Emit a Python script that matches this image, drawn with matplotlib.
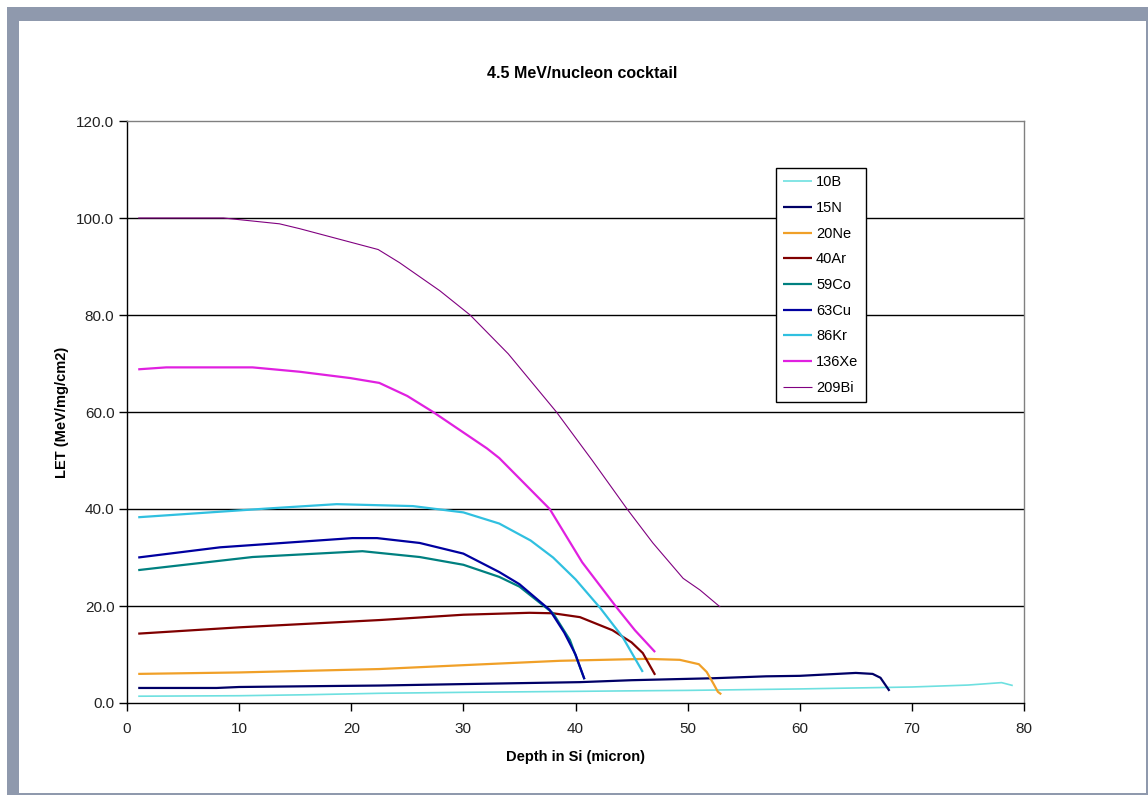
import matplotlib
matplotlib.use("Agg")
import matplotlib.pyplot as plt
from matplotlib.patches import Rectangle

plt.rcParams['font.family'] = ['Liberation Sans', 'DejaVu Sans']

title = "4.5 MeV/nucleon cocktail"
xlabel = "Depth in Si (micron)"
ylabel = "LET (MeV/mg/cm2)"

b10_x = [1, 10, 16, 22.5, 30, 40, 44.6, 50, 60, 70, 75, 78, 79]
b10_y = [1.4, 1.5, 1.7, 2.0, 2.2, 2.4, 2.5, 2.6, 2.9, 3.3, 3.7, 4.2, 3.6]

n15_x = [1, 8, 10, 18, 22.5, 30, 40.4, 45, 52.2, 57, 60, 65, 66.5, 67.2, 68]
n15_y = [3.1, 3.1, 3.3, 3.5, 3.6, 3.9, 4.3, 4.7, 5.1, 5.5, 5.6, 6.2, 6.0, 5.2, 2.5]

ne20_x = [1, 10, 22.5, 30, 38.6, 46.3, 49.3, 51, 51.7, 52.3, 52.7, 53]
ne20_y = [6.0, 6.3, 7.0, 7.8, 8.7, 9.1, 8.9, 8.0, 6.4, 4.0, 2.3, 1.8]

ar40_x = [1, 10, 22.5, 30, 35.9, 38, 40.4, 43.3, 45, 46, 47.1]
ar40_y = [14.3, 15.6, 17.1, 18.2, 18.6, 18.5, 17.7, 15.0, 12.5, 10.3, 5.8]

co59_x = [1, 11.2, 21, 26.1, 30, 33.2, 35, 38, 39.5, 40.3, 40.8]
co59_y = [27.4, 30.1, 31.3, 30.1, 28.5, 26.0, 24.0, 18.5, 13.0, 8.0, 4.9]

cu63_x = [1, 8.3, 20.1, 22.3, 26.1, 30, 33.2, 35, 37.7, 39, 40, 40.8]
cu63_y = [30.0, 32.1, 34.0, 34.0, 33.0, 30.8, 27.0, 24.5, 19.2, 14.5, 10.0, 4.9]

kr86_x = [1, 12.5, 18.7, 25.5, 30, 33.2, 36, 38, 40, 42.2, 44.2, 46]
kr86_y = [38.3, 40.1, 41.0, 40.6, 39.3, 37.0, 33.5, 30.0, 25.5, 19.6, 13.6, 6.4]

xe136_x = [1, 3.5, 11.2, 15.4, 19.9, 22.5, 25, 27.3, 32.1, 33.2, 37.7, 40.6, 43.7, 45.3, 47.1]
xe136_y = [68.8, 69.2, 69.2, 68.3, 67.0, 66.0, 63.3, 60.0, 52.5, 50.5, 40.0, 29.0, 19.6, 15.0, 10.5]

bi209_x = [1, 8.6, 13.6, 15.4, 22.4, 24.3, 27.9, 30.6, 34, 38.3, 41.5, 44.6, 46.9, 49.6, 51.1, 52.9]
bi209_y = [100, 100, 98.8, 97.8, 93.5, 90.8, 85.0, 80.0, 72.0, 60.0, 50.0, 40.0, 33.0, 25.7, 23.3, 19.8]

series = [
    ("10B", b10_x, b10_y, "#6ee0e0", 1.2),
    ("15N", n15_x, n15_y, "#000066", 1.6),
    ("20Ne", ne20_x, ne20_y, "#f0a028", 1.6),
    ("40Ar", ar40_x, ar40_y, "#800000", 1.6),
    ("59Co", co59_x, co59_y, "#008080", 1.6),
    ("63Cu", cu63_x, cu63_y, "#0000a0", 1.6),
    ("86Kr", kr86_x, kr86_y, "#30c0e0", 1.6),
    ("136Xe", xe136_x, xe136_y, "#e020e0", 1.6),
    ("209Bi", bi209_x, bi209_y, "#800080", 0.8),
]

W, H = 1148, 795
fig = plt.figure(figsize=(W / 100, H / 100), dpi=100)
fig.patch.set_facecolor("white")

# Gray frame
fig.patches.append(Rectangle((7 / W, 0), (W - 7) / W, (H - 7) / H, transform=fig.transFigure,
                             facecolor="#8f99ad", edgecolor="none", zorder=-2))
fig.patches.append(Rectangle((19 / W, 2 / H), (1146 - 19) / W, (H - 21 - 2) / H, transform=fig.transFigure,
                             facecolor="white", edgecolor="none", zorder=-1))

ax = fig.add_axes([127 / W, (H - 703) / H, (1024 - 127) / W, (703 - 121) / H])
ax.set_zorder(5)
ax.set_facecolor("white")

for name, xs, ys, c, lw in series:
    ax.plot(xs, ys, color=c, lw=lw, label=name, solid_capstyle="butt", zorder=3)

ax.set_xlim(0, 80)
ax.set_ylim(0, 120)
ax.set_xticks(range(0, 81, 10))
ax.set_yticks(range(0, 121, 20))
ax.set_yticklabels([f"{v:.1f}" for v in range(0, 121, 20)])
for v in range(20, 101, 20):
    ax.axhline(v, color="black", lw=1.0, zorder=1)

for s in ("left", "bottom"):
    ax.spines[s].set_color("black")
    ax.spines[s].set_linewidth(1.0)
for s in ("top", "right"):
    ax.spines[s].set_color("#808080")
    ax.spines[s].set_linewidth(1.0)

ax.tick_params(axis="both", direction="out", length=6, width=1.0, color="black",
               labelsize=11, labelcolor="#222222")
ax.tick_params(axis="x", pad=8)
ax.tick_params(axis="y", pad=3)

fig.text(582 / W, 1 - 74 / H, title, ha="center", va="center", fontsize=11.5, fontweight="bold")
fig.text(575 / W, 1 - 757 / H, xlabel, ha="center", va="center", fontsize=10.5, fontweight="bold")
fig.text(62 / W, 1 - 412 / H, ylabel, ha="center", va="center", rotation=90, fontsize=10.5, fontweight="bold")

leg = ax.legend(loc="upper left", bbox_to_anchor=(776 / W, 1 - 168 / H), bbox_transform=fig.transFigure,
                borderaxespad=0, frameon=True, fancybox=False, edgecolor="black", framealpha=1,
                fontsize=10.5, handlelength=2.0, handletextpad=0.25, labelspacing=0.8,
                borderpad=0.5)
leg.get_frame().set_linewidth(1.0)
leg.set_zorder(10)

fig.savefig("out.png", dpi=100)
